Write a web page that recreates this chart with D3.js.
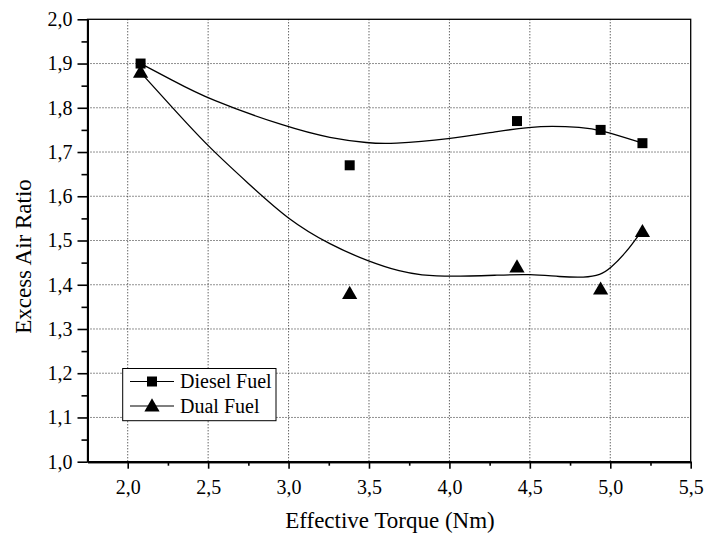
<!DOCTYPE html>
<html><head><meta charset="utf-8">
<script src="https://cdn.jsdelivr.net/npm/d3@7"></script>
</head><body style="margin:0">
<svg id="c" width="704" height="536"></svg>
<script>
const torque = [2.08, 3.38, 4.42, 4.94, 5.20];
const dieselValues = [1.90, 1.67, 1.77, 1.75, 1.72];
const dualValues = [1.88, 1.38, 1.44, 1.39, 1.52];
// smoothed fit curves (x, value)
const dieselCurveX = [2.08, 2.264, 2.5, 3.0, 3.26, 3.5, 3.633, 4.0, 4.318, 4.5, 4.629, 4.816, 4.94, 5.2];
const dieselCurveY = [1.90, 1.865, 1.819, 1.755, 1.731, 1.720, 1.718, 1.729, 1.748, 1.756, 1.759, 1.756, 1.750, 1.72];
const dualCurveX = [2.08, 2.264, 2.5, 2.75, 3.0, 3.26, 3.5, 3.70, 3.82, 4.0, 4.318, 4.5, 4.69, 4.84, 4.94, 5.0, 5.095, 5.2];
const dualCurveY = [1.88, 1.806, 1.712, 1.629, 1.546, 1.490, 1.452, 1.429, 1.422, 1.418, 1.422, 1.424, 1.418, 1.416, 1.422, 1.437, 1.471, 1.524];
const xTicks = [2.0,2.5,3.0,3.5,4.0,4.5,5.0,5.5];
const yTicks = [1.0,1.1,1.2,1.3,1.4,1.5,1.6,1.7,1.8,1.9,2.0];
const seriesNames = ["Diesel Fuel","Dual Fuel"];

const FONT = "Liberation Serif";
const svg = d3.select("#c");
const L=87.5, R=690.7, T=19.3, B=461.7;
const x = d3.scaleLinear().domain([1.75,5.5]).range([L,R]);
const y = d3.scaleLinear().domain([1.0,2.0]).range([B,T]);
const fmt = d => d.toFixed(1).replace('.',',');

// grid
const grid = svg.append("g");
grid.selectAll(".gx").data(xTicks.filter(d=>d>1.75&&d<5.5)).enter().append("line")
 .attr("x1",d=>x(d)).attr("x2",d=>x(d)).attr("y1",T).attr("y2",B)
 .attr("stroke","#222").attr("stroke-width",1).attr("stroke-dasharray","1,2");
grid.selectAll(".gy").data(yTicks.filter(d=>d>1.0&&d<2.0)).enter().append("line")
 .attr("y1",d=>y(d)).attr("y2",d=>y(d)).attr("x1",L).attr("x2",R)
 .attr("stroke","#222").attr("stroke-width",1).attr("stroke-dasharray","1,2");

// frame
svg.append("rect").attr("x",L).attr("y",T).attr("width",R-L).attr("height",B-T)
 .attr("fill","none").attr("stroke","#000").attr("stroke-width",1.3);

// axes
const xAxis = d3.axisBottom(x).tickValues(xTicks).tickFormat(fmt).tickSizeInner(7).tickSizeOuter(0).tickPadding(11);
const xMinor = d3.axisBottom(x).tickValues([2.25,2.75,3.25,3.75,4.25,4.75,5.25]).tickFormat("").tickSizeInner(4).tickSizeOuter(0);
const yAxis = d3.axisLeft(y).tickValues(yTicks).tickFormat(fmt).tickSizeInner(10).tickSizeOuter(0).tickPadding(5);
const yMinor = d3.axisLeft(y).tickValues([1.05,1.15,1.25,1.35,1.45,1.55,1.65,1.75,1.85,1.95]).tickFormat("").tickSizeInner(6).tickSizeOuter(0);

function axisLook(sel){
  sel.attr("font-family",FONT).attr("font-size",20);
  sel.selectAll("path.domain").attr("stroke","#000").attr("stroke-width",2);
  sel.selectAll(".tick line").attr("stroke","#000").attr("stroke-width",1.6);
  sel.selectAll("text").attr("font-family",FONT).style("font-family",FONT).attr("font-size",20);
}
svg.append("g").attr("transform",`translate(0,${B})`).call(xAxis).call(axisLook);
svg.append("g").attr("transform",`translate(0,${B})`).call(xMinor).call(axisLook);
svg.append("g").attr("transform",`translate(${L},0)`).call(yAxis).call(axisLook);
svg.append("g").attr("transform",`translate(${L},0)`).call(yMinor).call(axisLook);

// titles
svg.append("text").attr("x",390).attr("y",528).attr("text-anchor","middle")
 .attr("font-family",FONT).style("font-family",FONT).attr("font-size",23).text("Effective Torque (Nm)");
svg.append("text").attr("transform",`translate(31,${(T+B)/2+16}) rotate(-90)`).attr("text-anchor","middle")
 .attr("font-family",FONT).style("font-family",FONT).attr("font-size",23).text("Excess Air Ratio");

// curves
const lineGen = d3.line().x(d=>x(d[0])).y(d=>y(d[1])).curve(d3.curveBasis);
[d3.zip(dieselCurveX, dieselCurveY), d3.zip(dualCurveX, dualCurveY)].forEach(c=>{
  svg.append("path").attr("d",lineGen(c)).attr("fill","none").attr("stroke","#000").attr("stroke-width",1.3);
});

// markers
const sq = d3.symbol().type(d3.symbolSquare).size(100);
const tri = d3.symbol().type(d3.symbolTriangle).size(100);
svg.selectAll(".d").data(d3.zip(torque, dieselValues)).enter().append("path")
 .attr("d",sq).attr("transform",d=>`translate(${x(d[0])},${y(d[1])})`).attr("fill","#000");
svg.selectAll(".u").data(d3.zip(torque, dualValues)).enter().append("path")
 .attr("d",tri).attr("transform",d=>`translate(${x(d[0])},${y(d[1])+1})`).attr("fill","#000");

// legend
const lg = svg.append("g");
lg.append("rect").attr("x",122.7).attr("y",368.5).attr("width",153.3).attr("height",52.2)
 .attr("fill","#fff").attr("stroke","#000").attr("stroke-width",1);
seriesNames.forEach((n,i)=>{
  const yy = 381.5 + i*24.5;
  lg.append("line").attr("x1",130).attr("x2",174).attr("y1",yy).attr("y2",yy).attr("stroke","#000").attr("stroke-width",1.2);
  lg.append("path").attr("d", i===0?sq():tri()).attr("transform",`translate(152,${yy+(i?1:0)})`).attr("fill","#000");
  lg.append("text").attr("x",180).attr("y",yy+6.5).attr("font-family",FONT).style("font-family",FONT).attr("font-size",20).text(n);
});
</script>
</body></html>
